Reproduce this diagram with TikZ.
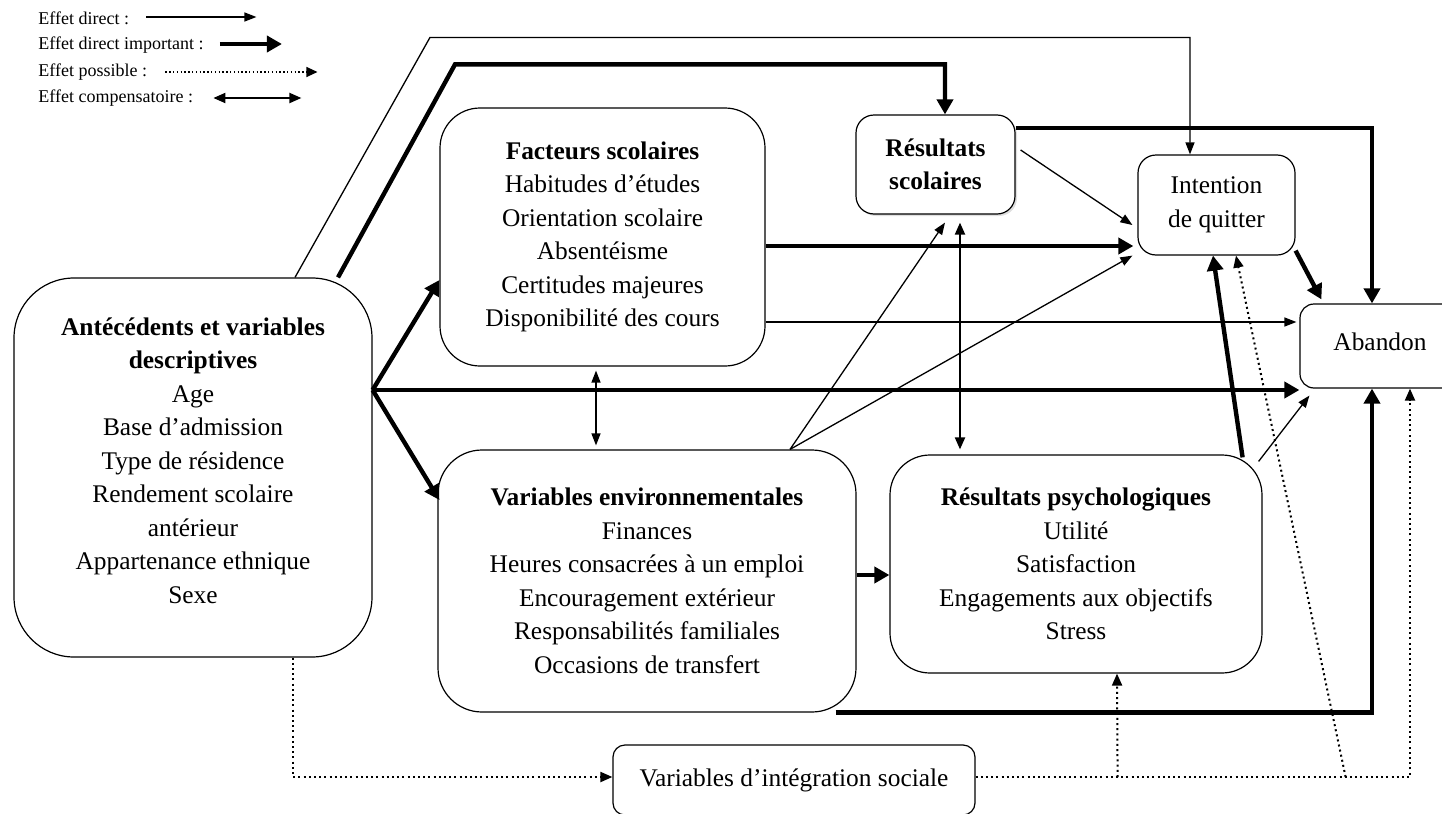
\documentclass[tikz,border=0pt]{standalone}
\usepackage{fontspec}
\setmainfont{Liberation Serif}
\usetikzlibrary{arrows.meta,calc,shadows}
\begin{document}
\begin{tikzpicture}[x=0.5pt,y=-0.5pt,
  box/.style={draw, line width=0.6pt, align=center, inner sep=0pt,
    font=\fontsize{12.7}{16.75}\selectfont},
  legtext/.style={anchor=west, inner sep=0pt, font=\fontsize{9}{10}\selectfont},
  direct/.style={line width=0.65pt, -{Triangle[length=6pt,width=4.5pt]}},
  strong/.style={line width=2.2pt, -{Triangle[length=7.5pt,width=8pt]}},
  compens/.style={line width=1pt, {Triangle[length=6pt,width=5pt]}-{Triangle[length=6pt,width=5pt]}},
  possible/.style={line width=1pt, dash pattern=on 1pt off 1.6pt},
  possarrow/.style={possible, -{Triangle[length=6pt,width=5pt]}}
]
\useasboundingbox (0,0) rectangle (1442,814);
\clip (0,0) rectangle (1442,814);

% legend
\node[legtext] (l1) at (38,18) {Effet direct :};
\node[legtext] (l2) at (38,45) {Effet direct important :};
\node[legtext] (l3) at (38,72) {Effet possible :};
\node[legtext] (l4) at (38,98) {Effet compensatoire :};
\draw[direct] ($(l1.east)+(17,-1)$) -- ++(110,0);
\draw[strong] ($(l2.east)+(16,-1)$) -- ++(62,0);
\draw[line width=0.6pt, dash pattern=on 0.7pt off 1.2pt, -{Triangle[length=5.5pt,width=5pt]}] ($(l3.east)+(18,0)$) -- ++(152,0);
\draw[compens] ($(l4.east)+(20,0)$) -- ++(88,0);

% nodes
\node[box, rounded corners=30pt, minimum width=179pt, minimum height=189.5pt] (ant) at (193,467.5)
  {\textbf{Antécédents et variables}\\\textbf{descriptives}\\Age\\Base d’admission\\Type de résidence\\Rendement scolaire\\antérieur\\Appartenance ethnique\\Sexe\\[-9.75pt]};
\node[box, rounded corners=20pt, minimum width=162.5pt, minimum height=129pt] (fac) at (602.5,237)
  {\textbf{Facteurs scolaires}\\Habitudes d’études\\Orientation scolaire\\Absentéisme\\Certitudes majeures\\Disponibilité des cours};
\node[box, rounded corners=9pt, minimum width=79.5pt, minimum height=49.5pt, fill=white,
  drop shadow={opacity=0.25, shadow xshift=1pt, shadow yshift=-1pt}] (rs) at (935.5,164.5)
  {\textbf{Résultats}\\\textbf{scolaires}};
\node[box, rounded corners=9pt, minimum width=78.5pt, minimum height=50pt] (int) at (1216.5,205)
  {Intention\\de quitter};
\node[box, rounded corners=7pt, minimum width=80pt, minimum height=42pt] (aband) at (1380,346)
  {\raisebox{4.5pt}{Abandon}};
\node[box, rounded corners=22pt, minimum width=209pt, minimum height=131pt] (env) at (647,581)
  {\textbf{Variables environnementales}\\Finances\\Heures consacrées à un emploi\\Encouragement extérieur\\Responsabilités familiales\\Occasions de transfert};
\node[box, rounded corners=20pt, minimum width=186pt, minimum height=109pt] (rp) at (1076,564)
  {\textbf{Résultats psychologiques}\\Utilité\\Satisfaction\\Engagements aux objectifs\\Stress};
\node[box, rounded corners=6pt, minimum width=181pt, minimum height=35pt] (vis) at (794,780)
  {Variables d’intégration sociale};

% connectors from antecedents
\coordinate (hub) at ($(ant.east)+(0,-77.5)$);
\draw[strong] (hub) -- ($(fac.west)+(0,43)$);
\draw[strong] (hub) -- ($(env.west)+(2,-81)$);
\draw[strong] (hub) -- (hub -| aband.west);
\draw[direct] ($(ant.north)+(102,0)$) -- ++(135,-240) -| ($(int.north)+(-26.5,0)$);
\draw[strong] ($(ant.north)+(145,0)$) -- ++(117,-213) -| ($(rs.north)+(9.5,0)$);
\draw[possarrow] ($(ant.south)+(100,0)$) |- ($(vis.west)+(0,-3)$);

% facteurs scolaires
\coordinate (f1) at ($(fac.east)+(0,9)$);
\draw[strong] (f1) -- ($(f1 -| int.west)+(-4,0)$);
\coordinate (f2) at ($(fac.east)+(0,85)$);
\draw[direct] (f2) -- ($(f2 -| aband.west)+(-3,0)$);
\draw[line width=0.65pt, {Triangle[length=6pt,width=4.5pt]}-{Triangle[length=6pt,width=4.5pt]}]
  ($(fac.south)+(-6.5,4)$) -- ($(env.north)+(-51,-4)$);

% resultats scolaires
\draw[strong] ($(rs.east)+(0,-36.5)$) -| ($(aband.north)+(-8,0)$);
\draw[direct] ($(rs.east)+(5,-14.5)$) -- ($(int.west)+(-5,20)$);
\draw[compens] ($(rs.south)+(24.5,8)$) -- ($(rp.north)+(-116,-5)$);

% variables environnementales
\coordinate (e1) at ($(env.north)+(143,0)$);
\draw[direct] (e1) -- ($(rs.south)+(9.5,8)$);
\draw[direct] (e1) -- ($(int.south west)+(-5,0)$);
\coordinate (e2) at ($(env.east)+(0,-6)$);
\draw[strong] (e2) -- (e2 -| rp.west);
\draw[strong] ($(env.south east)+(-21,0)$) -| ($(aband.south)+(-8,0)$);

% intention / resultats psychologiques
\draw[strong] ($(int.south east)+(0,-5)$) -- ($(aband.north west)+(22,-4)$);
\draw[strong] ($(rp.north east)+(-20,3)$) -- ($(int.south)+(-3.5,0)$);
\draw[direct] ($(rp.north east)+(-4,7)$) -- ($(aband.south west)+(10,7)$);

% integration sociale
\draw[possarrow] ($(vis.east)+(0,-3)$) -| ($(aband.south)+(30,0)$);
\draw[possarrow] ($(vis.east)+(142,-3)$) -- ($(rp.south)+(41,0)$);
\draw[possarrow] ($(vis.east)+(370,-3)$) -- ($(int.south)+(19.5,0)$);
\end{tikzpicture}
\end{document}
